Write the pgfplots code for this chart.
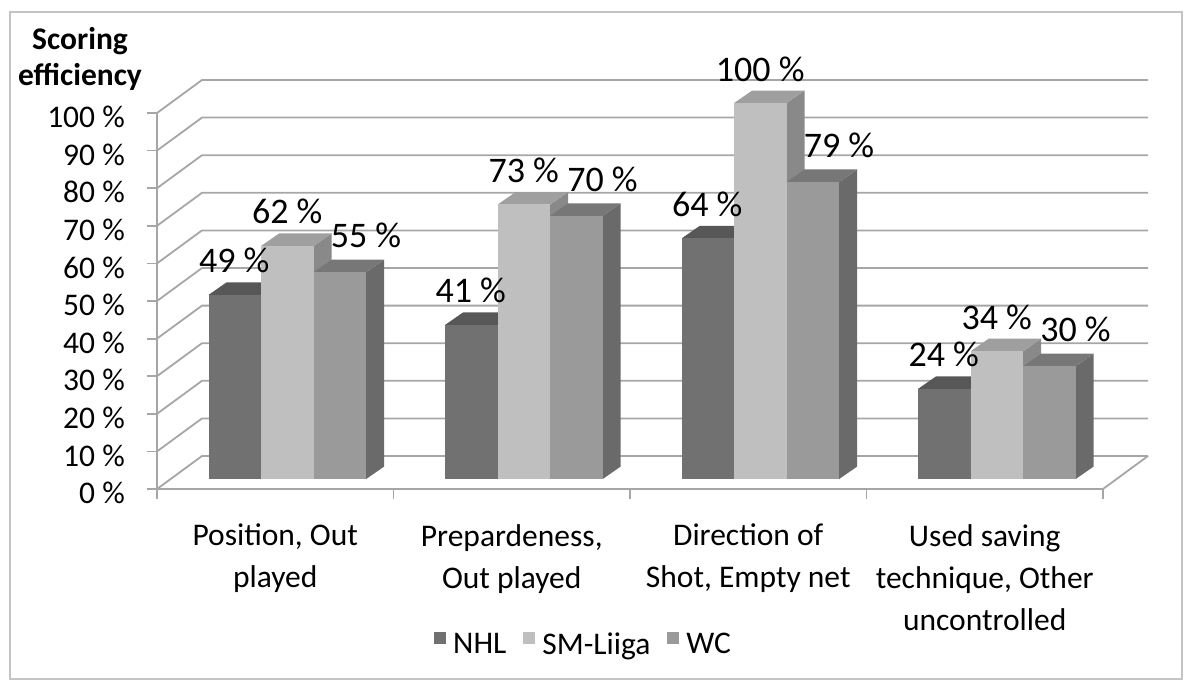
\documentclass[border=0pt]{standalone}
\usepackage{fontspec}
\setmainfont{Carlito}
\usepackage{pgfplots}
\pgfplotsset{compat=1.18}
\usepackage{pgfplotstable}

\definecolor{gridc}{HTML}{A6A6A6}
\definecolor{framec}{HTML}{C4C4C4}
\definecolor{nhlF}{HTML}{717171}
\definecolor{nhlT}{HTML}{575757}
\definecolor{nhlS}{HTML}{555555}
\definecolor{smF}{HTML}{BFBFBF}
\definecolor{smT}{HTML}{9F9F9F}
\definecolor{smS}{HTML}{898989}
\definecolor{wcF}{HTML}{9A9A9A}
\definecolor{wcT}{HTML}{777777}
\definecolor{wcS}{HTML}{6A6A6A}

\newcommand\ftick{\fontsize{31.5}{37}\selectfont}
\newcommand\fcat{\fontsize{31.5}{42}\selectfont}
\newcommand\flab{\fontsize{36}{42}\selectfont}

\pgfdeclareplotmark{none3d}{}

\pgfplotstableread{
x nhl sm wc
0 49 62 55
1 41 73 70
2 64 100 79
3 24 34 30
}\data

\pgfplotsset{
  bar3d/.style n args={4}{
    forget plot,
    only marks, mark=none3d, scatter,
    point meta=explicit,
    scatter/@post marker code/.code={},
    scatter/@pre marker code/.code={%
      \begin{pgfscope}%
      \pgfmathfloattofixed{\pgfplotspointmeta}\let\val\pgfmathresult
      \pgfkeys{/pgf/fpu=false}%
      \pgfmathsetmacro\hh{\val*3.76}%
      \pgfmathsetmacro\xl{#1-26.25+12.2}%
      \pgfmathsetmacro\xr{\xl+52.5}%
      \pgfmathsetmacro\xrr{\xr+18}%
      \pgfmathsetmacro\xll{\xl+18}%
      \pgfmathsetmacro\yb{10-\hh}%
      \pgfmathsetmacro\ybb{\yb+12.5}%
      % side face
      \pgfsetfillcolor{#4}%
      \pgfpathmoveto{\pgfpoint{\xr pt}{\yb pt}}%
      \pgfpathlineto{\pgfpoint{\xr pt}{10pt}}%
      \pgfpathlineto{\pgfpoint{\xrr pt}{22.5pt}}%
      \pgfpathlineto{\pgfpoint{\xrr pt}{\ybb pt}}%
      \pgfpathclose\pgfusepath{fill}%
      % top face
      \pgfsetfillcolor{#3}%
      \pgfpathmoveto{\pgfpoint{\xl pt}{10pt}}%
      \pgfpathlineto{\pgfpoint{\xr pt}{10pt}}%
      \pgfpathlineto{\pgfpoint{\xrr pt}{22.5pt}}%
      \pgfpathlineto{\pgfpoint{\xll pt}{22.5pt}}%
      \pgfpathclose\pgfusepath{fill}%
      % front face
      \pgfsetfillcolor{#2}%
      \pgfpathrectanglecorners{\pgfpoint{\xl pt}{\yb pt}}{\pgfpoint{\xr pt}{10pt}}%
      \pgfusepath{fill}%
      \end{pgfscope}%
    },
  },
  barlab/.style n args={2}{
    forget plot, only marks, mark=none3d,
    point meta=explicit,
    nodes near coords={\pgfmathprintnumber{\pgfplotspointmeta}~\%},
    every node near coord/.append style={anchor=base, inner sep=0pt,
      font=\flab, text=black, xshift=#1, yshift=#2},
  },
}

\begin{document}
\begin{tikzpicture}[x=1pt,y=1pt]
\useasboundingbox (-157,-200) rectangle (1032,489);
% chart frame
\draw[framec, line width=1.5pt] (-147,477) rectangle (1025,-190);
% walls and grid
\foreach \k in {0,...,10}{
  \pgfmathsetmacro\yy{37.6*\k}
  \draw[gridc, line width=1.8pt] (0,\yy) -- (45,\yy+33) -- (991,\yy+33);
  \draw[gridc, line width=1.8pt] (-10,\yy) -- (0,\yy);
}
\draw[gridc, line width=1.8pt] (0,0) -- (0,376);
\draw[gridc, line width=1.8pt] (0,0) -- (946,0) -- (991,33);
\foreach \i in {0,...,4}{
  \draw[gridc, line width=1.8pt] (236.5*\i,0) -- (236.5*\i,-10);
}
% title
\node[anchor=base, font=\bfseries\ftick] at (-77,439) {Scoring};
\node[anchor=base, font=\bfseries\ftick] at (-77,403) {efficiency};

\begin{axis}[
  at={(0,0)}, anchor=south west,
  x=236.5pt, y=3.76pt,
  xmin=-0.5, xmax=3.5, ymin=0, ymax=100,
  axis line style={draw=none},
  major tick style={draw=none},
  clip=false,
  /pgf/number format/assume math mode=true,
  ytick={0,10,...,100},
  yticklabel={\pgfmathprintnumber{\tick}~\%},
  yticklabel style={font=\ftick, anchor=east, inner sep=0pt, xshift=-32pt, yshift=-4pt},
  xtick={0,1,2,3},
  xticklabels={{Position, Out\\played},{Prepardeness,\\Out played},{Direction of\\Shot, Empty net},{Used saving\\technique, Other\\uncontrolled}},
  xticklabel style={font=\fcat, align=center, anchor=north, inner sep=0pt, yshift=-35pt},
  legend style={at={(0.2928,-0.412)}, anchor=west, draw=none, fill=none,
    font=\ftick, inner sep=0pt, legend columns=3,
    /tikz/every odd column/.append style={column sep=7pt},
    /tikz/every even column/.append style={column sep=17pt},
    nodes={inner sep=0pt}},
  legend image code/.code={\fill[#1] (0pt,0pt) rectangle (12pt,12pt);},
]
\addlegendimage{fill=nhlF, draw=none}
\addlegendentry{NHL}
\addlegendimage{fill=smF, draw=none}
\addlegendentry{SM-Liiga}
\addlegendimage{fill=wcF, draw=none}
\addlegendentry{WC}

\addplot[bar3d={-52.5}{nhlF}{nhlT}{nhlS}] table[x=x, y=nhl, meta=nhl] {\data};
\addplot[bar3d={0}{smF}{smT}{smS}] table[x=x, y=sm, meta=sm] {\data};
\addplot[bar3d={52.5}{wcF}{wcT}{wcS}] table[x=x, y=wc, meta=wc] {\data};

\addplot[barlab={-41pt}{32pt}] table[x=x, y=nhl, meta=nhl] {\data};
\addplot[barlab={12pt}{32pt}] table[x=x, y=sm, meta=sm] {\data};
\addplot[barlab={90.7pt}{34.5pt}] table[x=x, y=wc, meta=wc] {\data};
\end{axis}
\end{tikzpicture}
\end{document}
